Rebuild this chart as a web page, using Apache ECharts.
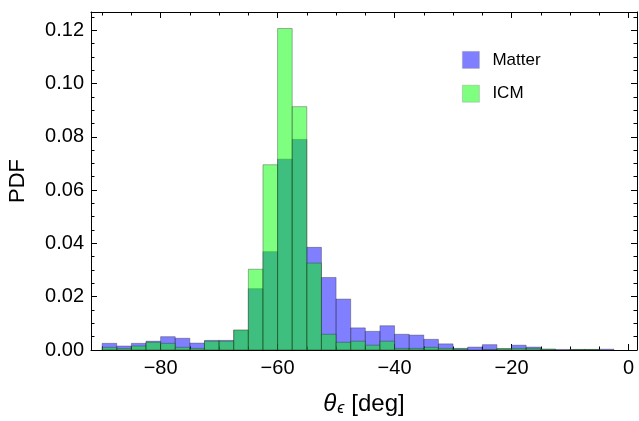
<!DOCTYPE html>
<html><head><meta charset="utf-8">
<script src="https://cdn.jsdelivr.net/npm/echarts@6/dist/echarts.min.js"></script>
<style>html,body{margin:0;padding:0;background:#fff}#c{width:639px;height:421px}</style>
</head><body><div id="c"></div>
<script>
const binStarts = [-90,-87.5,-85,-82.5,-80,-77.5,-75,-72.5,-70,-67.5,-65,-62.5,-60,-57.5,-55,-52.5,-50,-47.5,-45,-42.5,-40,-37.5,-35,-32.5,-30,-27.5,-25,-22.5,-20,-17.5,-15,-12.5,-10,-7.5,-5,-2.5];
const binWidth = 2.5;
const matter = [0.0025,0.0015,0.0025,0.0033,0.0050,0.0044,0.0026,0.0036,0.0036,0.0074,0.0230,0.0369,0.0716,0.0790,0.0385,0.0272,0.0191,0.0083,0.0070,0.0091,0.0059,0.0056,0.0040,0.0023,0.0006,0.0011,0.0020,0.0005,0.0018,0.0011,0.0003,0.0002,0.0002,0.0002,0.0003,0];
const icm = [0.0010,0.0006,0.0015,0.0029,0.0025,0.0010,0.0006,0.0033,0.0033,0.0075,0.0303,0.0695,0.1206,0.0913,0.0326,0.0059,0.0029,0.0033,0.0018,0.0033,0.0006,0.0006,0.0010,0.0006,0.0004,0,0.0002,0.0005,0.0006,0.0006,0.0003,0,0.0002,0.0002,0,0];
const xMajor = [-80,-60,-40,-20,0];
const xMinor = [-90,-85,-75,-70,-65,-55,-50,-45,-35,-30,-25,-15,-10,-5];
const yMajor = [0,0.02,0.04,0.06,0.08,0.10,0.12];
const yMinor = [0.005,0.01,0.015,0.025,0.03,0.035,0.045,0.05,0.055,0.065,0.07,0.075,0.085,0.09,0.095,0.105,0.11,0.115,0.125];
const seriesNames = ['Matter','ICM'];
const colors = ['rgba(0,0,255,0.5)','rgba(0,255,0,0.5)'];

const X_MIN = -91.9, X_MAX = 1.45, Y_MIN = 0, Y_MAX = 0.1268;
const FONT = 'Liberation Sans, Arial, sans-serif';
const lineC = '#000';

function mkData(vals){ return binStarts.map((s,i)=>[s, s+binWidth, vals[i]]); }
function mkRender(color){
  return function(params, api){
    const v = api.value(2);
    if (!(v > 0)) return null;
    const p0 = api.coord([api.value(0), v]);
    const p1 = api.coord([api.value(1), 0]);
    return {type:'rect', shape:{x:p0[0], y:p0[1], width:p1[0]-p0[0], height:p1[1]-p0[1]},
      style:{fill:color, stroke:'rgba(40,40,40,0.45)', lineWidth:0.8}};
  };
}
function xAxisDef(pos, vals, len, showLine, label){
  return {type:'value', position:pos, min:X_MIN, max:X_MAX, gridIndex:0,
    axisLine:{show:showLine, onZero:false, lineStyle:{color:lineC, width:1}},
    axisTick:{show:true, inside:true, length:len, customValues:vals, lineStyle:{color:lineC, width:1}},
    axisLabel: label ? {show:true, customValues:vals, margin:8, fontSize:20, color:'#000', fontFamily:FONT,
      formatter:(v)=> (v<0 ? '\u2212' + Math.abs(v) : String(v))} : {show:false},
    splitLine:{show:false}, minorTick:{show:false}};
}
function yAxisDef(pos, vals, len, showLine, label){
  return {type:'value', position:pos, min:Y_MIN, max:Y_MAX, gridIndex:0,
    axisLine:{show:showLine, onZero:false, lineStyle:{color:lineC, width:1}},
    axisTick:{show:true, inside:true, length:len, customValues:vals, lineStyle:{color:lineC, width:1}},
    axisLabel: label ? {show:true, customValues:vals, margin:7, fontSize:20, color:'#000', fontFamily:FONT,
      formatter:(v)=> v.toFixed(2)} : {show:false},
    splitLine:{show:false}, minorTick:{show:false}};
}
const xAxes = [xAxisDef('bottom', xMajor, 6, true, true), xAxisDef('bottom', xMinor, 3.5, false, false),
  xAxisDef('top', xMajor, 6, true, false), xAxisDef('top', xMinor, 3.5, false, false)];
xAxes[0].name = '{i|\u03B8}{s|\u03F5}{n|[deg]}';
xAxes[0].nameLocation = 'middle';
xAxes[0].nameGap = 42;
xAxes[0].nameTextStyle = {fontFamily:FONT, fontSize:24, color:'#000', rich:{
  i:{fontFamily:FONT, fontSize:24, fontStyle:'italic', color:'#000'},
  s:{fontFamily:FONT, fontSize:16, fontStyle:'italic', color:'#000', padding:[9,0,0,1]},
  n:{fontFamily:FONT, fontSize:24, color:'#000', padding:[0,0,0,7]}}};
const yAxes = [yAxisDef('left', yMajor, 6, true, true), yAxisDef('left', yMinor, 3.5, false, false),
  yAxisDef('right', yMajor, 6, true, false), yAxisDef('right', yMinor, 3.5, false, false)];
yAxes[0].name = 'PDF';
yAxes[0].nameLocation = 'middle';
yAxes[0].nameGap = 62;
yAxes[0].nameTextStyle = {fontFamily:FONT, fontSize:22, color:'#000'};

const chart = echarts.init(document.getElementById('c'), null, {renderer:'canvas'});
chart.setOption({
  animation:false,
  backgroundColor:'#fff',
  grid:{left:91, top:12, right:2, bottom:71, containLabel:false, outerBoundsMode:'none'},
  legend:{orient:'vertical', left:462, top:51, itemWidth:17, itemHeight:17, itemGap:16, padding:0,
    textStyle:{fontFamily:FONT, fontSize:17, color:'#000', padding:[0,0,0,8]},
    data: seriesNames.map((n,i)=>({name:n, icon:'rect', itemStyle:{color:colors[i], borderColor:'rgba(150,150,150,0.5)', borderWidth:0.8}}))},
  xAxis: xAxes,
  yAxis: yAxes,
  series:[
    {name:seriesNames[0], type:'custom', xAxisIndex:0, yAxisIndex:0, clip:true, itemStyle:{color:colors[0]},
      encode:{x:[0,1], y:2}, data: mkData(matter), renderItem: mkRender(colors[0])},
    {name:seriesNames[1], type:'custom', xAxisIndex:0, yAxisIndex:0, clip:true, itemStyle:{color:colors[1]},
      encode:{x:[0,1], y:2}, data: mkData(icm), renderItem: mkRender(colors[1])}
  ]
});
</script></body></html>
